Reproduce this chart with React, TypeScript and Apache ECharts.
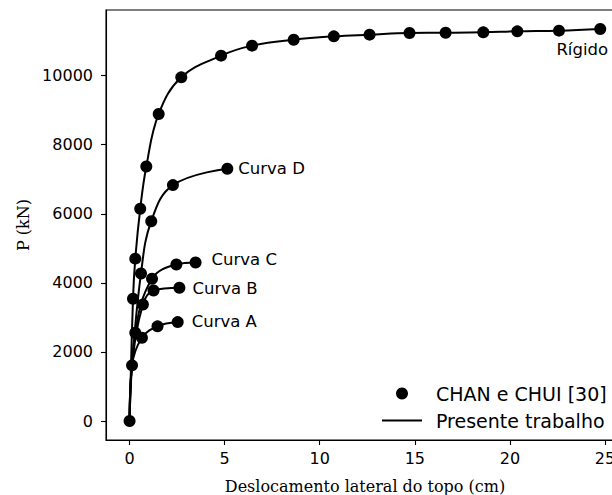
import React, { useEffect, useRef } from "react";
import * as echarts from "echarts";

// Tick values
const xTicks = [0, 5, 10, 15, 20, 25];
const yTicks = [0, 2000, 4000, 6000, 8000, 10000];

// CHAN e CHUI [30] (experimental points)
const chanRigido: [number, number][] = [
  [0, 0], [0.18, 3540], [0.3, 4700], [0.56, 6144], [0.88, 7370], [1.53, 8890],
  [2.72, 9950], [4.81, 10578], [6.44, 10868], [8.63, 11040], [10.74, 11137],
  [12.62, 11186], [14.72, 11235], [16.62, 11240], [18.6, 11253], [20.39, 11282],
  [22.58, 11302], [24.75, 11350],
];
const chanD: [number, number][] = [[0.13, 1611], [0.3, 2557], [0.6, 4272], [1.14, 5785], [2.28, 6830], [5.14, 7305]];
const chanC: [number, number][] = [[0.7, 3375], [1.18, 4119], [2.46, 4533], [3.47, 4590]];
const chanB: [number, number][] = [[1.26, 3780], [2.62, 3859]];
const chanA: [number, number][] = [[0.65, 2412], [1.47, 2740], [2.53, 2864]];

// Presente trabalho (model curves)
const lineRigido: [number, number][] = chanRigido;
const lineD: [number, number][] = [[0, 0], [0.13, 1611], [0.6, 4272], [1.14, 5785], [2.28, 6830], [5.14, 7305]];
const lineC: [number, number][] = [[0, 0], [0.3, 2557], [1.18, 4119], [2.46, 4533], [3.47, 4590]];
const lineB: [number, number][] = [[0, 0], [0.13, 1611], [0.7, 3375], [1.26, 3780], [2.62, 3859]];
const lineA: [number, number][] = [[0, 0], [0.13, 1611], [0.65, 2412], [1.47, 2740], [2.53, 2864]];

const curveNames = ["Rígido", "Curva D", "Curva C", "Curva B", "Curva A"];

const SANS = "DejaVu Sans";
const SERIF = "DejaVu Serif";

export default function App() {
  const ref = useRef<HTMLDivElement>(null);

  useEffect(() => {
    if (!ref.current) return;
    const chart = echarts.init(ref.current, null, { renderer: "svg" });

    const lines = [lineRigido, lineD, lineC, lineB, lineA];
    const points = [chanRigido, chanD, chanC, chanB, chanA];
    const labelCfg = [
      { position: "bottom", distance: 6, offset: [-18, 0] },
      { position: "right", distance: 5, offset: [0, 0] },
      { position: "right", distance: 10, offset: [0, -3] },
      { position: "right", distance: 7, offset: [0, 1] },
      { position: "right", distance: 8, offset: [0, -1] },
    ];

    const series: any[] = [];
    lines.forEach((d) => {
      series.push({
        type: "line",
        name: "Presente trabalho",
        data: d,
        smooth: 0.4,
        symbol: "none",
        lineStyle: { color: "#000", width: 2 },
        itemStyle: { color: "#000" },
        z: 2,
      });
    });
    points.forEach((d, i) => {
      series.push({
        type: "scatter",
        name: "CHAN e CHUI [30]",
        symbol: "circle",
        symbolSize: 12,
        itemStyle: { color: "#000", opacity: 1 },
        z: 3,
        data: d.map((p, j) =>
          j === d.length - 1
            ? {
                value: p,
                label: {
                  show: true,
                  formatter: curveNames[i],
                  position: labelCfg[i].position,
                  distance: labelCfg[i].distance,
                  offset: labelCfg[i].offset,
                  color: "#000",
                  fontFamily: SANS,
                  fontSize: 16.5,
                },
              }
            : { value: p }
        ),
      });
    });

    const axisLineStyle = { color: "#000", width: 1.1 };

    chart.setOption({
      animation: false,
      backgroundColor: "#fff",
      grid: {
        left: 106,
        top: 10,
        width: 518,
        height: 430,
        outerBoundsMode: "none",
        containLabel: false,
        show: true,
        borderColor: "#000",
        borderWidth: 1.1,
        backgroundColor: "transparent",
      },
      legend: {
        data: [
          { name: "CHAN e CHUI [30]", icon: "circle" },
          { name: "Presente trabalho", icon: "path://M0,0 L40,0 L40,2 L0,2 Z" },
        ],
        orient: "vertical",
        left: 377,
        top: 379,
        itemWidth: 40,
        itemHeight: 12,
        itemGap: 8,
        symbolKeepAspect: true,
        itemStyle: { color: "#000", opacity: 1 },
        textStyle: { color: "#000", fontFamily: SANS, fontSize: 19, padding: [0, 0, 0, 9] },
      },
      xAxis: {
        type: "value",
        min: -1.24,
        max: 26.0,
        axisLine: { show: true, onZero: false, lineStyle: axisLineStyle },
        axisTick: { show: true, length: 5, customValues: xTicks, lineStyle: axisLineStyle },
        axisLabel: {
          customValues: xTicks,
          formatter: (v: number) => String(v),
          color: "#000",
          fontFamily: SANS,
          fontSize: 16,
          margin: 10,
        },
        splitLine: { show: false },
        name: "Deslocamento lateral do topo (cm)",
        nameLocation: "middle",
        nameGap: 38,
        nameTextStyle: { color: "#000", fontFamily: SERIF, fontSize: 16 },
      },
      yAxis: {
        type: "value",
        min: -550,
        max: 11900,
        axisLine: { show: true, onZero: false, lineStyle: axisLineStyle },
        axisTick: { show: true, length: 5, customValues: yTicks, lineStyle: axisLineStyle },
        axisLabel: {
          customValues: yTicks,
          formatter: (v: number) => String(v),
          color: "#000",
          fontFamily: SANS,
          fontSize: 16,
          margin: 13,
        },
        splitLine: { show: false },
        name: "P (kN)",
        nameLocation: "middle",
        nameGap: 71,
        nameTextStyle: { color: "#000", fontFamily: SERIF, fontSize: 16 },
      },
      series,
    });

    return () => chart.dispose();
  }, []);

  return (
    <div
      ref={ref}
      style={{ position: "absolute", left: 0, top: 0, width: 612, height: 495 }}
    />
  );
}
